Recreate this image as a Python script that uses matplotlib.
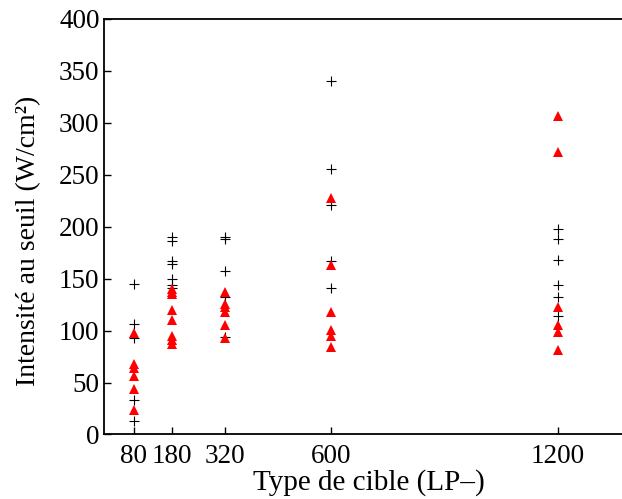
import matplotlib
matplotlib.use("Agg")
import matplotlib.pyplot as plt

plt.rcParams['font.family'] = ['Liberation Serif', 'DejaVu Serif']

# Data: threshold intensity per target type
x_ticks = [80, 180, 320, 600, 1200]
y_ticks = [0, 50, 100, 150, 200, 250, 300, 350, 400]

plus_80 = [145, 106, 93, 33, 13]
plus_180 = [190, 186, 167, 164, 150, 144, 141]
plus_320 = [190, 188, 157, 132, 94]
plus_600 = [340, 256, 221, 167, 141]
plus_1200 = [198, 188, 168, 144, 132, 114]

tri_80 = [98, 68, 64, 56, 44, 24]
tri_180 = [140, 137, 135, 120, 110, 95, 91, 87]
tri_320 = [137, 126, 123, 118, 105, 93]
tri_600 = [228, 163, 118, 101, 95, 84]
tri_1200 = [307, 272, 123, 105, 99, 81]

plus_series = [plus_80, plus_180, plus_320, plus_600, plus_1200]
tri_series = [tri_80, tri_180, tri_320, tri_600, tri_1200]

fig = plt.figure(figsize=(6.22, 4.99), dpi=100)
ax = fig.add_axes([0.1667, 0.1293, 0.852, 0.8327])

for xv, ys in zip(x_ticks, plus_series):
    ax.plot([xv] * len(ys), ys, linestyle='none', marker='+', color='black',
            markersize=7, markeredgewidth=0.8)
for xv, ys in zip(x_ticks, tri_series):
    ax.plot([xv] * len(ys), ys, linestyle='none', marker='^', color='red',
            markersize=7.5, markeredgewidth=0)

ax.set_xlim(0, 1400)
ax.set_ylim(0, 400)
ax.set_xticks(x_ticks)
ax.set_xticklabels([str(v) for v in x_ticks])
ax.set_yticks(y_ticks)
ax.tick_params(direction='in', length=5, width=1, labelsize=19.5)
ax.tick_params(axis='y', pad=3)
ax.tick_params(axis='x', pad=7)
for s in ['left', 'bottom', 'top']:
    ax.spines[s].set_linewidth(1.3)
ax.spines['right'].set_visible(False)

ax.set_xlabel('Type de cible (LP\u2013)', fontsize=21, labelpad=0)
ax.set_ylabel('Intensité au seuil (W/cm²)', fontsize=20, labelpad=13)
ax.yaxis.label.set_y(0.466)

fig.savefig('out.png', dpi=100)
